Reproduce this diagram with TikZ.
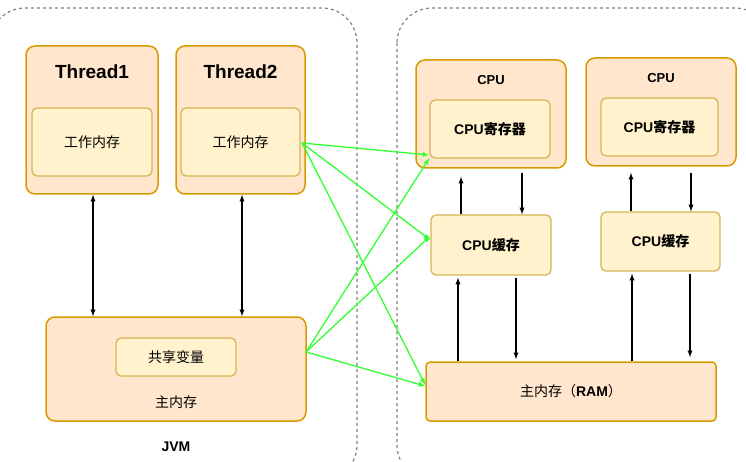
\documentclass[tikz,border=0pt]{standalone}
\usepackage{fontspec}
\setmainfont{Liberation Sans}
\newfontfamily\cjk{Noto Sans CJK SC}
\definecolor{ofill}{HTML}{FFE6CC}
\definecolor{ostroke}{HTML}{D79B00}
\definecolor{yfill}{HTML}{FFF2CC}
\definecolor{ystroke}{HTML}{D6B656}
\definecolor{gline}{HTML}{33FF33}
\begin{document}
\begin{tikzpicture}[x=1pt,y=-1pt,
  outer/.style={draw=ostroke,fill=ofill,line width=1.5pt,rounded corners=9pt},
  inner/.style={draw=ystroke,fill=yfill,line width=1.3pt,rounded corners=5pt},
  grp/.style={draw=gray,dashed,line width=1.2pt,rounded corners=35pt},
  blk/.style={<->,>=latex,line width=1.3pt},
  one/.style={->,>=latex,line width=1.3pt},
  grn/.style={->,>=latex,line width=1.3pt,draw=gline},
  lbl/.style={font=\fontsize{14}{16}\selectfont}]
\useasboundingbox (0,0) rectangle (746,462);
\draw[grp] (-10,8) rectangle (357,480);
\draw[grp] (397,8) rectangle (770,480);
% threads
\node[outer,minimum width=132pt,minimum height=148pt] (t1) at (92,120) {};
\node[font=\bfseries\fontsize{19}{21}\selectfont] (t1l) at (92,72) {Thread1};
\node[inner,minimum width=120pt,minimum height=68pt,lbl] (w1) at (92,142) {\cjk 工作内存};
\node[outer,minimum width=129pt,minimum height=148pt] (t2) at (240.5,120) {};
\node[font=\bfseries\fontsize{19}{21}\selectfont] (t2l) at (240.5,72) {Thread2};
\node[inner,minimum width=119pt,minimum height=68pt,lbl] (w2) at (240.5,142) {\cjk 工作内存};
% main memory
\node[outer,minimum width=260pt,minimum height=104pt] (mm) at (176,369) {};
\node[inner,minimum width=120pt,minimum height=38pt,lbl] (sv) at (176,357) {\cjk 共享变量};
\node[lbl] (mml) at (176,402) {\cjk 主内存};
\node[font=\bfseries\fontsize{14}{16}\selectfont] (jvm) at (176,447) {JVM};
% CPUs
\node[outer,minimum width=150pt,minimum height=108pt] (c1) at (491,114) {};
\node[font=\bfseries\fontsize{13}{15}\selectfont] (c1l) at (491,80) {CPU};
\node[inner,minimum width=120pt,minimum height=58pt,lbl] (r1) at (490,129) {\textbf{CPU}{\cjk\bfseries 寄存器}};
\node[outer,minimum width=150pt,minimum height=108pt] (c2) at (661,112) {};
\node[font=\bfseries\fontsize{13}{15}\selectfont] (c2l) at (661,78) {CPU};
\node[inner,minimum width=117pt,minimum height=58pt,lbl] (r2) at (659.5,127) {\textbf{CPU}{\cjk\bfseries 寄存器}};
\node[inner,minimum width=120pt,minimum height=60pt,lbl] (k1) at (491,245) {\textbf{CPU}{\cjk\bfseries 缓存}};
\node[inner,minimum width=119pt,minimum height=59pt,lbl] (k2) at (660.5,241.5) {\textbf{CPU}{\cjk\bfseries 缓存}};
\node[outer,rounded corners=4pt,minimum width=290pt,minimum height=59pt,lbl] (ram) at (571,391.5) {{\cjk 主内存（}\textbf{RAM}{\cjk ）}};
% black arrows
\draw[blk] (t1.south -| 93,0) -- (mm.north -| 93,0);
\draw[blk] (t2.south -| 242,0) -- (mm.north -| 242,0);
\draw[one] (k1.north -| 461,0) -- ([yshift=-8pt]c1.south -| 461,0);
\draw[one] ([yshift=-4pt]c1.south -| 522,0) -- (k1.north -| 522,0);
\draw[one] (k2.north -| 631,0) -- ([yshift=-6pt]c2.south -| 631,0);
\draw[one] ([yshift=-6pt]c2.south -| 691,0) -- (k2.north -| 691,0);
\draw[one] (ram.north -| 458,0) -- ([yshift=-2pt]k1.south -| 458,0);
\draw[one] ([yshift=-2pt]k1.south -| 516,0) -- ([yshift=2pt]ram.north -| 516,0);
\draw[one] (ram.north -| 632,0) -- ([yshift=-2pt]k2.south -| 632,0);
\draw[one] ([yshift=-2pt]k2.south -| 690,0) -- ([yshift=4pt]ram.north -| 690,0);
% green arrows
\coordinate (g1) at (302,143);
\coordinate (g2) at (306,352);
\draw[grn] (g1) -- (r1.west |- 0,155);
\draw[grn] (g1) -- (k1.west |- 0,240);
\draw[grn] (g1) -- (ram.west |- 0,385);
\draw[grn] (g2) -- (r1.west |- 0,158);
\draw[grn] (g2) -- (k1.west |- 0,236);
\draw[grn] (g2) -- (ram.west |- 0,386);
\end{tikzpicture}
\end{document}
